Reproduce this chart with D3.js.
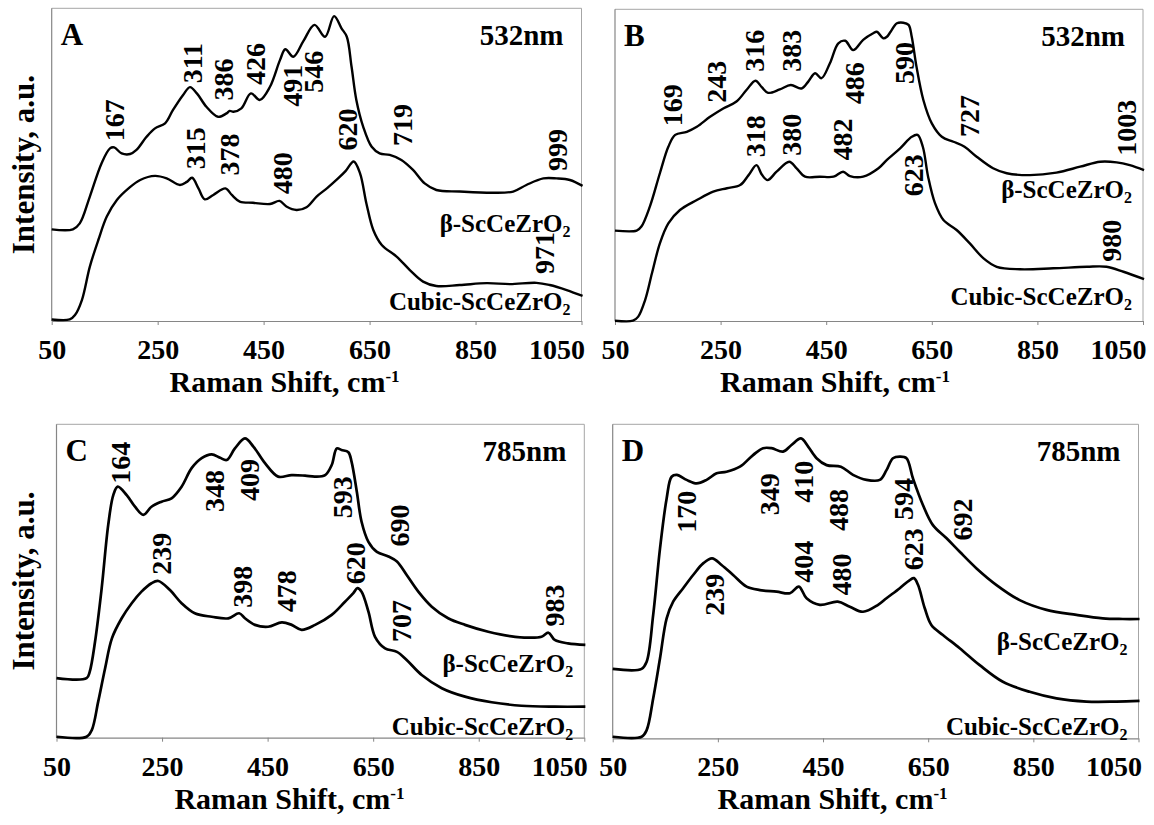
<!DOCTYPE html>
<html>
<head>
<meta charset="utf-8">
<script src="https://cdn.jsdelivr.net/npm/d3@7"></script>
<style>
  body { margin: 0; background: #fff; }
  svg { display: block; }
  text { font-family: "Liberation Serif", "Times New Roman", Times, serif; font-weight: bold; fill: #000; }
</style>
</head>
<body>
<svg id="fig" width="1154" height="825"></svg>
<script>
// Raman shift ticks (cm-1)
const xTicks = [50, 250, 450, 650, 850, 1050];

// Spectra: [Raman shift (cm-1), relative intensity (0-100 of panel height)]
// Panel A, 532 nm
const aBeta = [[50,29.3],[90,29.3],[103,31.2],[122,39.8],[144,50.4],[160,55.2],[168,55.5],[182,53.6],[198,53.4],[210,54.7],[229,58.9],[245,61.6],[264,63.2],[279,67.5],[298,72.3],[311,74.8],[324,72.8],[342,68.5],[364,65.3],[380,66.4],[386,67.2],[393,66.9],[408,68.0],[426,72.8],[443,70.7],[462,74.9],[481,83.5],[491,86.9],[506,84.5],[525,89.5],[546,94.7],[566,90.9],[583,97.5],[597,93.6],[607,90.9],[616,81.3],[625,70.7],[638,62.1],[654,55.7],[669,53.6],[688,53.1],[710,51.5],[732,48.3],[754,44.0],[776,41.9],[820,41.4],[883,41.0],[921,41.4],[946,43.5],[978,45.6],[1003,45.6],[1028,45.1],[1052,43.2]];
const aCubic = [[50,0.5],[84,0.5],[94,1.9],[107,6.7],[122,17.4],[138,25.9],[154,33.4],[173,38.7],[195,42.4],[217,45.1],[245,46.4],[267,45.6],[292,43.5],[305,44.5],[315,45.8],[327,42.4],[339,38.9],[355,40.3],[378,42.4],[390,40.3],[405,38.2],[430,37.8],[462,37.4],[480,38.4],[493,36.6],[512,35.5],[531,36.4],[550,39.8],[570,42.5],[590,45.5],[605,48.0],[620,51.0],[632,47.2],[644,37.6],[657,29.1],[673,24.3],[701,20.6],[726,16.3],[751,12.6],[776,11.2],[820,11.5],[871,12.1],[915,11.8],[965,12.2],[990,11.5],[1022,9.9],[1052,8.0]];
// Panel B, 532 nm
const bBeta = [[50,29.0],[91,29.0],[100,30.3],[116,36.7],[135,47.4],[151,55.9],[164,59.7],[186,60.7],[205,62.3],[230,65.5],[255,68.2],[280,70.4],[299,74.1],[316,77.1],[328,75.0],[340,73.2],[362,74.3],[383,75.7],[403,74.6],[416,76.8],[429,79.5],[441,77.9],[457,82.7],[473,89.1],[486,89.9],[501,86.9],[520,90.2],[539,92.3],[546,92.8],[558,90.7],[565,91.2],[572,92.8],[584,95.5],[596,95.7],[606,95.0],[612,91.2],[621,81.6],[634,70.9],[650,63.4],[669,59.1],[691,57.5],[712,55.9],[735,52.7],[766,49.0],[792,47.4],[836,46.8],[886,47.6],[931,49.5],[969,51.1],[1000,50.9],[1025,50.0],[1052,48.4]];
const bCubic = [[50,0.1],[84,0.1],[94,1.4],[107,6.7],[120,15.3],[135,24.9],[151,31.3],[173,35.6],[205,38.8],[236,41.5],[262,42.6],[287,43.6],[303,46.8],[318,50.0],[328,47.0],[339,45.2],[356,47.9],[380,51.1],[394,49.0],[410,46.3],[438,46.3],[464,46.3],[482,47.9],[495,46.5],[520,46.3],[549,49.0],[565,51.7],[590,55.4],[612,59.1],[623,59.7],[633,55.9],[643,46.3],[656,37.8],[672,32.4],[697,29.2],[722,24.9],[748,20.1],[773,17.4],[817,16.6],[880,16.9],[944,17.4],[981,17.4],[1013,15.8],[1052,13.4]];
// Panel C, 785 nm
const cBeta = [[50,19.0],[107,19.0],[113,21.1],[123,30.6],[135.6,47.7],[148,67.9],[157.6,77.4],[166,80.1],[183,77.4],[198.7,73.7],[214.5,71.1],[230,73.7],[249,75.3],[268,76.4],[287,80.1],[306,86.0],[325,89.2],[344,90.4],[360,89.3],[372.5,88.6],[388,92.3],[407,95.5],[423,92.9],[445,87.6],[470,83.3],[495.6,83.8],[521,83.6],[540,83.3],[559,83.8],[571.4,87.0],[581,92.3],[590,91.8],[603,91.1],[609,88.1],[619,78.5],[628,68.9],[641,62.5],[657,59.3],[679,57.8],[695,56.2],[713.5,51.9],[735.5,46.6],[761,41.8],[792,38.1],[824,36.0],[868,33.8],[919,32.2],[969,32.2],[982,33.5],[994,31.2],[1019,30.1],[1052,29.6]];
const cCubic = [[50,0.3],[107,0.3],[117,2.5],[129,11.5],[142,22.1],[155,31.7],[173.5,38.1],[192.5,42.9],[211,46.6],[230,49.3],[243,50.0],[265,47.1],[287,42.9],[312,39.7],[344,38.6],[375.5,38.1],[396,39.7],[407,38.1],[426,36.0],[451,35.4],[477,36.8],[495.6,36.0],[514.5,34.4],[540,36.0],[571.4,39.2],[596.6,43.4],[612.4,46.1],[620,47.7],[628,46.6],[641,40.2],[653.5,32.2],[672.5,28.5],[695,27.4],[713.5,24.8],[742,20.0],[780,15.8],[824,13.1],[874.5,11.3],[931,10.2],[994,9.9],[1052,9.9]];
// Panel D, 785 nm
const dBeta = [[50,22.1],[105,22.1],[114.6,24.4],[127,39.3],[140,60.5],[152.6,76.4],[162,83.3],[172,83.9],[190.6,82.3],[209.6,81.2],[228.6,82.3],[247.6,84.4],[266.6,84.9],[292,86.5],[317,90.2],[336,92.4],[352,92.4],[374,91.3],[390,93.4],[408,95.5],[421.7,92.9],[437.7,89.2],[456.7,87.0],[484,86.5],[507,83.9],[532.7,82.3],[558,82.3],[570.7,85.4],[583,89.2],[596,89.7],[608.7,89.2],[621,82.8],[640,74.3],[659,67.9],[685,63.7],[710,59.4],[742,54.1],[780,48.8],[824,44.0],[875,40.9],[932,39.3],[982,38.2],[1020,38.0],[1052,38.0]];
const dCubic = [[50,0.5],[105,0.5],[114.6,2.6],[127,12.7],[140,25.5],[152.6,38.2],[165,43.5],[184,47.8],[203,52.0],[222,55.7],[239,57.3],[257,55.2],[279,52.0],[304.6,48.3],[330,47.2],[361.7,46.7],[387,46.2],[404,48.3],[418.7,44.6],[444,42.5],[478,43.5],[501,41.9],[526,40.3],[554.7,42.5],[570.7,44.6],[596,47.8],[615,50.4],[623,51.0],[630.8,48.8],[643.5,41.4],[656,36.1],[678,32.9],[710,28.7],[748,23.3],[792,18.0],[843,14.8],[894,12.7],[951,11.7],[1008,11.7],[1052,11.9]];

// Peak assignments: [label, shift where the label sits, intensity at label foot]
const aBetaPeaks = [["167",169,57.5],["311",316,76],["386",374,70.5],["426",435,75.5],["491",504,68.5],["546",545,73],["719",712,56],["999",1004,48]];
const aCubicPeaks = [["315",322,48.5],["378",386,46.5],["480",485.5,40.5],["620",609,54.5],["971",981,15]];
const bBetaPeaks = [["169",159,62.5],["243",243,70],["316",315,80],["383",385,80],["486",504.5,69.5],["590",597.5,76],["727",720.5,59],["1003",1018.6,53]];
const bCubicPeaks = [["318",316.6,52.5],["380",384.7,53],["482",481,51.5],["623",615,40],["980",990.6,19]];
const cBetaPeaks = [["164",172,81],["348",350,72],["409",416.6,75.5],["593",592,70],["690",700,61],["983",993,35.5]];
const cCubicPeaks = [["239",249,52],["398",402,41.5],["478",485,40],["620",616.7,49],["707",703,30.5]];
const dBetaPeaks = [["170",190.6,65.5],["349",349,71],["410",413.6,75],["488",480,66],["594",603.6,69.5],["692",714.8,63]];
const dCubicPeaks = [["239",244.4,39],["404",413.6,49.5],["480",485,45.5],["623",622.6,53.5]];

const panelLetters = ["A", "B", "C", "D"];
const lasers = ["532nm", "532nm", "785nm", "785nm"];

// Layout of each panel on the page
const panels = [
  { box: {l: 51.7, r: 581.5, t: 8.3, b: 321},  beta: aBeta, cubic: aCubic, bp: aBetaPeaks, cp: aCubicPeaks, yTitle: true,  betaY: 28.6, cubicY: 3.5, titleDx: -32 },
  { box: {l: 615,  r: 1143,  t: 9.3, b: 321},  beta: bBeta, cubic: bCubic, bp: bBetaPeaks, cp: bCubicPeaks, yTitle: false, betaY: 39.5, cubicY: 5.1, titleDx: -44 },
  { box: {l: 56.5, r: 584.3, t: 424.3, b: 737.7}, beta: cBeta, cubic: cCubic, bp: cBetaPeaks, cp: cCubicPeaks, yTitle: true,  betaY: 21.1, cubicY: 0.9, titleDx: -31 },
  { box: {l: 612.7, r: 1138.5, t: 424.3, b: 738.3}, beta: dBeta, cubic: dCubic, bp: dBetaPeaks, cp: dCubicPeaks, yTitle: false, betaY: 28.1, cubicY: 1.1, titleDx: -43 }
];

const svg = d3.select("#fig");

panels.forEach((p, i) => {
  const {l, r, t, b} = p.box;
  const x = d3.scaleLinear().domain([50, 1050]).range([l, r]);
  const y = d3.scaleLinear().domain([0, 100]).range([b, t]);
  const g = svg.append("g");

  // plot frame: light top/right, darker axes
  g.append("line").attr("x1", l).attr("x2", r).attr("y1", t).attr("y2", t).attr("stroke", "#a6a6a6").attr("stroke-width", 1);
  g.append("line").attr("x1", r).attr("x2", r).attr("y1", t).attr("y2", b).attr("stroke", "#a6a6a6").attr("stroke-width", 1);
  g.append("line").attr("x1", l).attr("x2", l).attr("y1", t).attr("y2", b).attr("stroke", "#868686").attr("stroke-width", 1.2);

  const ax = g.append("g").attr("transform", `translate(0,${b})`)
    .call(d3.axisBottom(x).tickValues(xTicks).tickFormat(d3.format("d")).tickSize(4).tickSizeOuter(0));
  ax.select(".domain").attr("stroke", "#868686").attr("stroke-width", 1.2);
  ax.selectAll(".tick line").attr("stroke", "#868686");
  ax.selectAll(".tick text")
    .attr("y", 38).attr("dy", 0)
    .style("font-family", '"Liberation Serif", "Times New Roman", serif').style("font-weight", "bold")
    .style("font-size", "28px").attr("fill", "#000");
  // the last label is kept inside the panel edge
  ax.selectAll(".tick text").filter(d => d === xTicks[xTicks.length - 1])
    .attr("text-anchor", "end").attr("x", 3);

  // axis title
  const tt = g.append("text")
    .attr("x", (l + r) / 2 + p.titleDx).attr("y", b + 71)
    .attr("text-anchor", "middle").style("font-size", "30px");
  tt.append("tspan").text("Raman Shift, cm");
  tt.append("tspan").attr("dy", -10).style("font-size", "17px").text("-1");

  if (p.yTitle) {
    g.append("text")
      .attr("transform", `translate(34,${(t + b) / 2}) rotate(-90)`)
      .attr("text-anchor", "middle").style("font-size", "31px")
      .text("Intensity, a.u.");
  }

  // spectra
  const line = d3.line().x(d => x(d[0])).y(d => y(d[1])).curve(d3.curveCatmullRom.alpha(0.5));
  [p.beta, p.cubic].forEach(s => {
    g.append("path").datum(s).attr("d", line)
      .attr("fill", "none").attr("stroke", "#000")
      .attr("stroke-width", i < 2 ? 2.4 : 2.7).attr("stroke-linejoin", "round");
  });

  // peak labels (rotated)
  p.bp.concat(p.cp).forEach(([lab, px, py]) => {
    g.append("text")
      .attr("transform", `translate(${x(px)},${y(py)}) rotate(-90)`)
      .attr("text-anchor", "start").attr("dominant-baseline", "central")
      .style("font-size", "28px").text(lab);
  });

  // series names
  const sb = g.append("text").attr("x", r - 11).attr("y", y(p.betaY))
    .attr("text-anchor", "end").style("font-size", "25px");
  sb.append("tspan").text("β-ScCeZrO");
  sb.append("tspan").attr("dy", 5).style("font-size", "16px").text("2");
  const sc = g.append("text").attr("x", r - 11).attr("y", y(p.cubicY))
    .attr("text-anchor", "end").style("font-size", "25px");
  sc.append("tspan").text("Cubic-ScCeZrO");
  sc.append("tspan").attr("dy", 5).style("font-size", "16px").text("2");

  // panel letter and excitation wavelength
  g.append("text").attr("x", l + 9).attr("y", t + 37).style("font-size", "31px").text(panelLetters[i]);
  g.append("text").attr("x", r - 18).attr("y", t + 37).attr("text-anchor", "end").style("font-size", "29px").text(lasers[i]);
});
</script>
</body>
</html>
